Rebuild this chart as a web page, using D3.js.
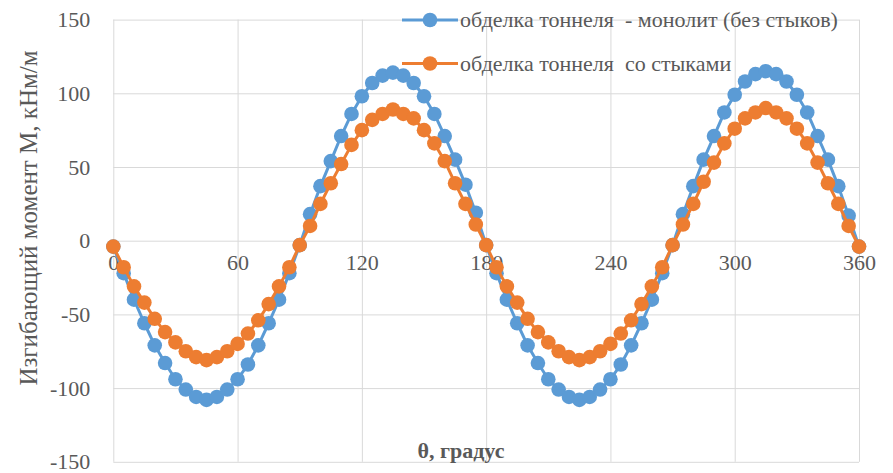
<!DOCTYPE html>
<html>
<head>
  <meta charset="utf-8">
  <title>Изгибающий момент</title>
  <style>
    body { margin: 0; background: #fff; }
    text { font-family: "Liberation Serif", "Times New Roman", serif; }
  </style>
</head>
<body>
  <svg id="svg"></svg>

  <script src="https://d3js.org/d3.v7.min.js"></script>
  <script>
    // angle, degrees (step 5)
    let angles = d3.range(0, 361, 5);

    // монолит (без стыков)
    let monolith = [
      -4, -22, -40, -56, -71, -83, -94, -101, -106, -108, -106, -101, -94,
      -84, -71, -56, -40, -22, -3, 18, 37, 54, 71, 86, 98, 107, 112, 114,
      112, 107, 98, 86, 71, 55, 38, 19, -3, -22, -40, -56, -71, -83, -94,
      -101, -106, -108, -106, -101, -94, -84, -71, -56, -40, -22, -3, 18,
      37, 55, 71, 87, 99, 108, 113, 115, 113, 108, 99, 87, 71, 55, 37, 17, -4
    ];

    // со стыками
    let joints = [
      -4, -18, -31, -42, -53, -62, -69, -75, -79, -81, -79, -75, -70,
      -63, -54, -43, -31, -18, -3, 10, 25, 39, 52, 65, 75, 82, 86, 89,
      86, 83, 75, 66, 54, 39, 25, 11, -3, -18, -31, -42, -53, -62, -69,
      -75, -79, -81, -79, -75, -70, -63, -54, -43, -31, -18, -3, 11,
      25, 40, 53, 66, 76, 83, 87, 90, 87, 83, 76, 66, 53, 39, 25, 10, -4
    ];

    let seriesNames = ["обделка тоннеля  - монолит (без стыков)", "обделка тоннеля  со стыками"];
    let seriesColors = ["#5b9bd5", "#ed7d31"];
    let xTicks = [0, 60, 120, 180, 240, 300, 360];
    let yTicks = [-150, -100, -50, 0, 50, 100, 150];

    let width = 893, height = 473;
    let margin = { top: 19.6, right: 34, bottom: 11.2, left: 113.3 };
    let w = width - margin.left - margin.right;
    let h = height - margin.top - margin.bottom;
    let r = 7.3;

    let svg = d3.select("#svg").attr("width", width).attr("height", height);
    svg.append("rect").attr("width", width).attr("height", height).attr("fill", "#fff");

    let xScale = d3.scaleLinear().domain([0, 360]).range([0, w]);
    let yScale = d3.scaleLinear().domain([-150, 150]).range([h, 0]);

    let plot = svg.append("g").attr("transform", `translate(${margin.left}, ${margin.top})`);

    // grid
    plot.append("g")
      .call(d3.axisLeft(yScale).tickValues(yTicks).tickSize(-w).tickFormat(""))
      .call(g => g.select(".domain").remove())
      .call(g => g.selectAll("line").attr("stroke", "#d9d9d9").attr("stroke-width", 1));
    plot.append("g")
      .attr("transform", `translate(0, ${h})`)
      .call(d3.axisBottom(xScale).tickValues(xTicks).tickSize(-h).tickFormat(""))
      .call(g => g.select(".domain").remove())
      .call(g => g.selectAll("line").attr("stroke", "#d9d9d9").attr("stroke-width", 1));

    // y tick labels (plain hyphen minus, as in the original)
    plot.append("g")
      .call(d3.axisLeft(yScale).tickValues(yTicks).tickSize(0).tickPadding(23).tickFormat(d => String(d)))
      .call(g => g.select(".domain").remove())
      .call(g => g.selectAll("text")
        .attr("fill", "#595959")
        .style("font-family", "'Liberation Serif', serif")
        .style("font-size", "22px"));

    // x tick labels, sitting under the zero line
    plot.append("g")
      .attr("transform", `translate(0, ${yScale(0)})`)
      .call(d3.axisBottom(xScale).tickValues(xTicks).tickSize(0).tickPadding(14).tickFormat(d => String(d)))
      .call(g => g.select(".domain").remove())
      .call(g => g.selectAll("text")
        .attr("fill", "#595959")
        .style("font-family", "'Liberation Serif', serif")
        .style("font-size", "22px"));

    let line = d3.line()
      .x((d, i) => xScale(angles[i]))
      .y(d => yScale(d));

    [monolith, joints].forEach((values, k) => {
      let g = plot.append("g");
      g.append("path")
        .datum(values)
        .attr("d", line)
        .attr("fill", "none")
        .attr("stroke", seriesColors[k])
        .attr("stroke-width", 3)
        .attr("stroke-linejoin", "round");
      g.selectAll("circle")
        .data(values)
        .join("circle")
        .attr("cx", (d, i) => xScale(angles[i]))
        .attr("cy", d => yScale(d))
        .attr("r", r)
        .attr("fill", seriesColors[k]);
    });

    // legend
    let legend = svg.append("g");
    seriesNames.forEach((name, k) => {
      let ly = 20 + k * 43.5;
      legend.append("line")
        .attr("x1", 402).attr("x2", 458).attr("y1", ly).attr("y2", ly)
        .attr("stroke", seriesColors[k]).attr("stroke-width", 3);
      legend.append("circle")
        .attr("cx", 430).attr("cy", ly).attr("r", r)
        .attr("fill", seriesColors[k]);
      legend.append("text")
        .attr("x", 460).attr("y", ly + 7)
        .attr("fill", "#595959")
        .style("font-size", "22px")
        .style("white-space", "pre")
        .attr("xml:space", "preserve")
        .text(name);
    });

    // axis titles
    svg.append("text")
      .attr("transform", "translate(37, 218) rotate(-90)")
      .attr("text-anchor", "middle")
      .attr("fill", "#595959")
      .style("font-size", "25px")
      .text("Изгибающий момент М, кНм/м");

    svg.append("text")
      .attr("x", 461).attr("y", 458)
      .attr("text-anchor", "middle")
      .attr("fill", "#595959")
      .style("font-size", "22px")
      .style("font-weight", "bold")
      .text("θ, градус");
  </script>
</body>
</html>
